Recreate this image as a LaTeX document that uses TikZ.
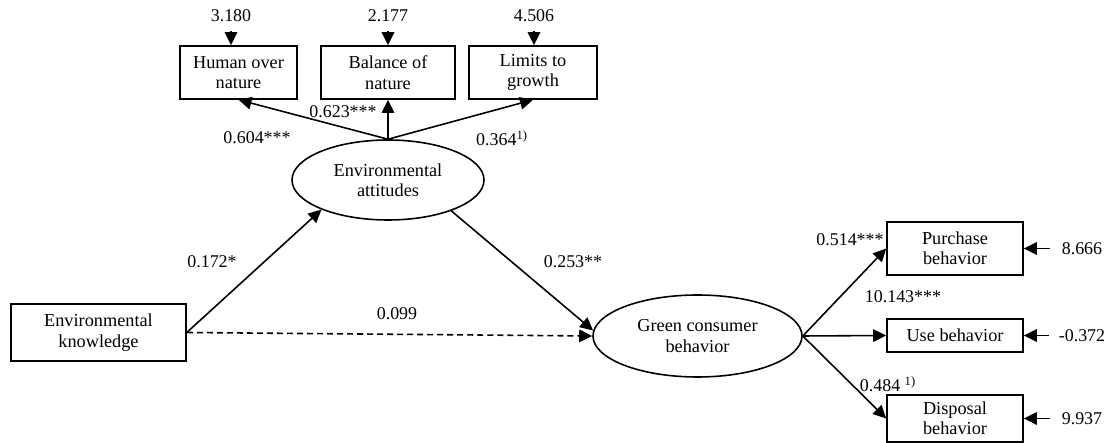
\documentclass[tikz,border=0pt]{standalone}
\usepackage{fontspec}
\setmainfont{Liberation Serif}
\usetikzlibrary{shapes.geometric,arrows.meta}

\begin{document}
\begin{tikzpicture}[
    box/.style={draw, line width=0.9pt, align=center, inner sep=0pt,
                font=\fontsize{10.4}{11.6}\selectfont},
    latent/.style={ellipse, draw, line width=0.9pt, align=center, inner sep=0pt,
                   font=\fontsize{10.4}{11.6}\selectfont},
    arr/.style={-{Triangle[length=0.26cm,width=0.25cm]}, line width=0.9pt},
    coef/.style={font=\fontsize{10.2}{12}\selectfont, inner sep=1pt},
    err/.style={font=\fontsize{10.2}{12}\selectfont, inner sep=1pt},
]
\useasboundingbox (0,0) rectangle (22.24,8.86);

% --- Attitude indicators (top) ---
\node[box, minimum width=2.34cm, minimum height=1.06cm]
    (human) at (4.77, 7.41) {Human over\\nature};
\node[box, minimum width=2.68cm, minimum height=1.06cm]
    (balance) at (7.76, 7.41) {Balance of\\nature};
\node[box, minimum width=2.56cm, minimum height=1.06cm]
    (limits) at (10.66, 7.41) {Limits to\\growth};

\node[err] (e1) at (4.62, 8.54) {3.180};
\node[err] (e2) at (7.76, 8.54) {2.177};
\node[err] (e3) at (10.68, 8.54) {4.506};

\draw[arr, shorten <=0.14cm] (e1) -- (e1 |- human.north);
\draw[arr, shorten <=0.14cm] (e2) -- (e2 |- balance.north);
\draw[arr, shorten <=0.14cm] (e3) -- (e3 |- limits.north);

% --- Latent variables ---
\node[latent, minimum width=3.84cm, minimum height=1.6cm]
    (att) at (7.76, 5.26) {Environmental\\attitudes};
\node[latent, minimum width=4.18cm, minimum height=1.64cm]
    (green) at (13.95, 2.14) {Green consumer\\behavior};

\node[box, minimum width=3.5cm, minimum height=1.14cm]
    (know) at (1.97, 2.21) {Environmental\\knowledge};

\draw[arr] (att.north) -- (human.south);
\draw[arr] (att.north) -- (balance.south);
\draw[arr] (att.north) -- (limits.south);

\draw[arr] (know.east) -- (att.204);
\draw[arr] (att.334) -- (green.177);
\draw[arr, dash pattern=on 3.4pt off 2.3pt] (know.east) -- (green.west);

% --- Behavior indicators (right) ---
\node[box, minimum width=2.72cm, minimum height=1.06cm]
    (purchase) at (19.10, 3.89) {Purchase\\behavior};
\node[box, minimum width=2.72cm, minimum height=0.66cm]
    (use) at (19.10, 2.15) {Use behavior};
\node[box, minimum width=2.72cm, minimum height=0.94cm]
    (disposal) at (19.10, 0.49) {Disposal\\behavior};

\draw[arr] (green.east) -- (purchase.west);
\draw[arr] (green.east) -- (use.west);
\draw[arr] (green.east) -- (disposal.west);

\node[err] (e4) at (21.64, 3.89) {8.666};
\node[err] (e5) at (21.64, 2.15) {-0.372};
\node[err] (e6) at (21.64, 0.49) {9.937};

\draw[arr, shorten <=0.2cm] (e4) -- (purchase);
\draw[arr, shorten <=0.16cm] (e5) -- (use);
\draw[arr, shorten <=0.2cm] (e6) -- (disposal);

% Path coefficients
\node[coef] (c1) at (5.14, 6.10) {0.604***};
\node[coef] (c2) at (6.86, 6.62) {0.623***};
\node[coef] (c3) at (10.04, 6.10) {0.364\textsuperscript{1)}};
\node[coef] (c4) at (4.24, 3.62) {0.172*};
\node[coef] (c5) at (11.46, 3.62) {0.253**};
\node[coef] (c6) at (7.94, 2.58) {0.099};
\node[coef] (c7) at (17.00, 4.06) {0.514***};
\node[coef] (c8) at (18.06, 2.92) {10.143***};
\node[coef] (c9) at (17.76, 1.18) {0.484 \textsuperscript{1)}};

\end{tikzpicture}
\end{document}
